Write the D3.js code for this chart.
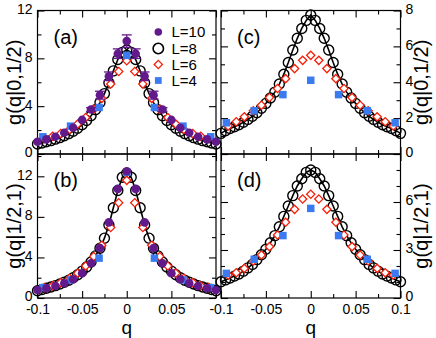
<!DOCTYPE html>
<html><head><meta charset="utf-8">
<script src="https://cdn.jsdelivr.net/npm/d3@7"></script>
<style>body{margin:0;background:#fff}svg{display:block}text{font-family:"Liberation Sans",Arial,Helvetica,sans-serif;fill:#000}</style>
</head><body><svg id="chart" width="436" height="338"></svg>
<script>
// ---------- data ----------
const qL10 = [-0.1,-0.09,-0.08,-0.07,-0.06,-0.05,-0.04,-0.03,-0.02,-0.01,0,0.01,0.02,0.03,0.04,0.05,0.06,0.07,0.08,0.09,0.1];
const qL8 = [-0.1,-0.095,-0.09,-0.085,-0.08,-0.075,-0.07,-0.065,-0.06,-0.055,-0.05,-0.045,-0.04,-0.035,-0.03,-0.025,-0.02,-0.015,-0.01,-0.005,0,0.005,0.01,0.015,0.02,0.025,0.03,0.035,0.04,0.045,0.05,0.055,0.06,0.065,0.07,0.075,0.08,0.085,0.09,0.095,0.1];
const qL6 = [-0.092,-0.083,-0.074,-0.064,-0.055,-0.046,-0.037,-0.028,-0.018,-0.009,0,0.009,0.018,0.028,0.037,0.046,0.055,0.064,0.074,0.083,0.092];
const qL4 = [-0.094,-0.063,-0.031,0,0.031,0.063,0.094];

// panel (a): g(q|0,1/2)
const aL10 = [1.03,1.22,1.44,1.78,2.19,2.85,3.72,4.92,6.5,8.39,9.44,8.39,6.5,4.92,3.72,2.85,2.19,1.78,1.44,1.22,1.03];
const aL10err = [0.05,0.05,0.05,0.06,0.08,0.1,0.15,0.33,0.36,0.4,0.52,0.4,0.36,0.33,0.15,0.1,0.08,0.06,0.05,0.05,0.05];
const aL8 = [0.83,0.92,1.02,1.12,1.24,1.37,1.52,1.7,1.9,2.15,2.45,2.8,3.2,3.7,4.3,5.05,5.95,6.95,7.9,8.5,8.7,8.5,7.9,6.95,5.95,5.05,4.3,3.7,3.2,2.8,2.45,2.15,1.9,1.7,1.52,1.37,1.24,1.12,1.02,0.92,0.83];
const aL6 = [1.3,1.48,1.72,2.05,2.5,3.05,3.75,4.65,5.85,6.9,7.8,6.9,5.85,4.65,3.75,3.05,2.5,2.05,1.72,1.48,1.3];
const aL4 = [1.44,2.33,3.89,8.25,3.89,2.33,1.44];

// panel (b): g(q|1/2,1)
const bL10 = [0.79,0.96,1.19,1.45,1.85,2.44,3.43,4.92,7.46,10.76,12.5,10.76,7.46,4.92,3.43,2.44,1.85,1.45,1.19,0.96,0.79];
const bL8 = [0.72,0.84,0.96,1.08,1.22,1.38,1.55,1.75,2.0,2.3,2.65,3.05,3.55,4.15,4.9,5.9,7.2,8.9,10.6,11.9,12.3,11.9,10.6,8.9,7.2,5.9,4.9,4.15,3.55,3.05,2.65,2.3,2.0,1.75,1.55,1.38,1.22,1.08,0.96,0.84,0.72];
const bL6 = [1.02,1.2,1.52,1.95,2.45,3.15,4.1,5.2,6.95,9.4,11.6,9.4,6.95,5.2,4.1,3.15,2.45,1.95,1.52,1.2,1.02];
const bL4 = [1.02,1.78,3.93,12.4,3.93,1.78,1.02];

// panel (c): g(q|0,1/2)
const cL8 = [1.15,1.3,1.42,1.52,1.63,1.77,1.93,2.1,2.3,2.55,2.82,3.12,3.45,3.9,4.45,5.1,5.8,6.45,7.0,7.45,7.75,7.45,7.0,6.45,5.8,5.1,4.45,3.9,3.45,3.12,2.82,2.55,2.3,2.1,1.93,1.77,1.63,1.52,1.42,1.3,1.15];
const cL6 = [1.56,1.8,2.07,2.41,2.72,3.15,3.65,4.2,4.76,5.22,5.5,5.22,4.76,4.2,3.65,3.15,2.72,2.41,2.07,1.8,1.56];
const cL4 = [1.74,2.41,3.31,4.11,3.31,2.41,1.74];

// panel (d): g(q|1/2,1)
const dL8 = [1.02,1.13,1.25,1.37,1.5,1.68,1.88,2.1,2.4,2.7,3.05,3.45,3.9,4.45,5.1,5.75,6.4,7.0,7.45,7.85,8.0,7.85,7.45,7.0,6.4,5.75,5.1,4.45,3.9,3.45,3.05,2.7,2.4,2.1,1.88,1.68,1.5,1.37,1.25,1.13,1.02];
const dL6 = [1.44,1.58,1.85,2.31,2.69,3.21,3.94,4.73,5.54,6.19,6.48,6.19,5.54,4.73,3.94,3.21,2.69,2.31,1.85,1.58,1.44];
const dL4 = [1.54,2.42,3.9,5.6,3.9,2.42,1.54];

const xMajor = [-0.1,-0.05,0,0.05,0.1];
const xMinor = [-0.075,-0.025,0.025,0.075];
const xTickLabels = ["-0.1","-0.05","0","0.05","0.1"];
const legendLabels = ["L=10","L=8","L=6","L=4"];

// ---------- layout ----------
const svg = d3.select("#chart");
const C = {purple:"#62198c", blue:"#3a7bf2", red:"#f5200a"};
const FONT_T = "14px", FONT_L = "20px";

const panels = [
  {name:"(a)", x0:37.5, x1:216,  y0:10.5, y1:154, ymax:12,   major:[0,4,8,12], minor:[2,6,10], side:"left",
   L10:aL10, L10err:aL10err, L8:aL8, L6:aL6, L4:aL4, ylabel:"g(q|0,1/2)", xlab:false, legend:true, xHide:[]},
  {name:"(b)", x0:37.5, x1:216,  y0:154,  y1:298, ymax:14.2, major:[0,4,8,12], minor:[2,6,10,14], side:"left",
   L10:bL10, L10err:null, L8:bL8, L6:bL6, L4:bL4, ylabel:"g(q|1/2,1)", xlab:true, legend:false, xHide:[0.1]},
  {name:"(c)", x0:221,  x1:400.5, y0:10.5, y1:154, ymax:8, major:[0,2,4,6,8], minor:[1,3,5,7], side:"right",
   L10:null, L10err:null, L8:cL8, L6:cL6, L4:cL4, ylabel:"g(q|0,1/2)", xlab:false, legend:false, xHide:[]},
  {name:"(d)", x0:221,  x1:400.5, y0:154,  y1:298, ymax:9, major:[0,3,6,9], minor:[1,2,4,5,7,8], side:"right",
   L10:null, L10err:null, L8:dL8, L6:dL6, L4:dL4, ylabel:"g(q|1/2,1)", xlab:true, legend:false, xHide:[], yHideLabel:[9]}
];

const diamond = d3.symbol().type(d3.symbolSquare).size(34)();
const square = d3.symbol().type(d3.symbolSquare).size(56)();

function fmtX(d){ const i = xMajor.indexOf(d); return i>=0 ? xTickLabels[i] : ""; }

panels.forEach(p => {
  const x = d3.scaleLinear().domain([-0.1,0.1]).range([p.x0,p.x1]);
  const y = d3.scaleLinear().domain([0,p.ymax]).range([p.y1,p.y0]);
  const g = svg.append("g");

  // frame
  g.append("rect").attr("x",p.x0).attr("y",p.y0).attr("width",p.x1-p.x0).attr("height",p.y1-p.y0)
    .attr("fill","none").attr("stroke","#000").attr("stroke-width",1.2);

  const style = sel => { sel.select(".domain").remove(); sel.selectAll("line").attr("stroke","#000").attr("stroke-width",1.1);
    sel.selectAll("text").style("font-size",FONT_T).attr("fill","#000"); };

  // x axes (bottom + top), inward ticks
  const xb = g.append("g").attr("transform",`translate(0,${p.y1})`)
    .call(d3.axisBottom(x).tickValues(xMajor).tickSize(-7).tickPadding(6)
      .tickFormat(d => (p.xlab && p.xHide.indexOf(d)<0) ? fmtX(d) : ""));
  style(xb);
  g.append("g").attr("transform",`translate(0,${p.y1})`).call(d3.axisBottom(x).tickValues(xMinor).tickSize(-4).tickFormat("")).call(style);
  g.append("g").attr("transform",`translate(0,${p.y0})`).call(d3.axisTop(x).tickValues(xMajor).tickSize(-7).tickFormat("")).call(style);
  g.append("g").attr("transform",`translate(0,${p.y0})`).call(d3.axisTop(x).tickValues(xMinor).tickSize(-4).tickFormat("")).call(style);

  // y axes
  const hide = p.yHideLabel || [];
  const labFmt = d => hide.indexOf(d)>=0 ? "" : String(d);
  const yl = p.side==="left"
    ? d3.axisLeft(y).tickValues(p.major).tickSize(-7).tickPadding(5).tickFormat(labFmt)
    : d3.axisLeft(y).tickValues(p.major).tickSize(-7).tickFormat("");
  const yr = p.side==="right"
    ? d3.axisRight(y).tickValues(p.major).tickSize(-7).tickPadding(5).tickFormat(labFmt)
    : d3.axisRight(y).tickValues(p.major).tickSize(-7).tickFormat("");
  g.append("g").attr("transform",`translate(${p.x0},0)`).call(yl).call(style).selectAll("text").attr("y",-1.5);
  g.append("g").attr("transform",`translate(${p.x1},0)`).call(yr).call(style).selectAll("text").attr("y",-1.5);
  g.append("g").attr("transform",`translate(${p.x0},0)`).call(d3.axisLeft(y).tickValues(p.minor).tickSize(-4).tickFormat("")).call(style);
  g.append("g").attr("transform",`translate(${p.x1},0)`).call(d3.axisRight(y).tickValues(p.minor).tickSize(-4).tickFormat("")).call(style);

  // L=8 line + open circles
  const pts8 = qL8.map((q,i)=>[q,p.L8[i]]);
  g.append("path").datum(pts8).attr("fill","none").attr("stroke","#000").attr("stroke-width",1.6)
    .attr("d", d3.line().x(d=>x(d[0])).y(d=>y(d[1])));
  g.selectAll(".c8").data(pts8).join("circle").attr("cx",d=>x(d[0])).attr("cy",d=>y(d[1])).attr("r",5)
    .attr("fill","none").attr("stroke","#000").attr("stroke-width",1.4);

  // L=6 diamonds
  g.selectAll(".d6").data(qL6.map((q,i)=>[q,p.L6[i]])).join("path").attr("d",diamond)
    .attr("transform",d=>`translate(${x(d[0])},${y(d[1])}) rotate(45)`)
    .attr("fill","#fff").attr("stroke",C.red).attr("stroke-width",1.3);

  // L=4 squares
  g.selectAll(".s4").data(qL4.map((q,i)=>[q,p.L4[i]])).join("path").attr("d",square)
    .attr("transform",d=>`translate(${x(d[0])},${y(d[1])})`).attr("fill",C.blue);

  // L=10 dots + error bars
  if (p.L10) {
    const pts10 = qL10.map((q,i)=>[q,p.L10[i], p.L10err ? p.L10err[i] : 0]);
    const eb = pts10.filter(d=>d[2]>0.12);
    eb.forEach(d=>{
      const cx = x(d[0]);
      g.append("line").attr("x1",cx).attr("x2",cx).attr("y1",y(d[1]-d[2])).attr("y2",y(d[1]+d[2])).attr("stroke",C.purple).attr("stroke-width",1.3);
      [d[1]-d[2], d[1]+d[2]].forEach(v=> g.append("line").attr("x1",cx-5).attr("x2",cx+5).attr("y1",y(v)).attr("y2",y(v)).attr("stroke",C.purple).attr("stroke-width",1.3));
    });
    g.selectAll(".p10").data(pts10).join("circle").attr("cx",d=>x(d[0])).attr("cy",d=>y(d[1])).attr("r",4.3).attr("fill",C.purple);
  }

  // panel label
  g.append("text").attr("x",p.x0+16).attr("y",p.y0+33).style("font-size",FONT_L).text(p.name);

  // y label
  const lx = p.side==="left" ? 20.5 : 428;
  g.append("text").attr("transform",`translate(${lx},${(p.y0+p.y1)/2}) rotate(-90)`).attr("text-anchor","middle")
    .style("font-size",FONT_L).text(p.ylabel);

  if (p.xlab) {
    g.append("text").attr("x",(p.x0+p.x1)/2).attr("y",333.5).attr("text-anchor","middle").style("font-size","19px").text("q");
  }

  if (p.legend) {
    const lg = g.append("g");
    const rows = [32, 48.5, 64.5, 80.5];
    const mx = 158.3;
    lg.append("circle").attr("cx",mx).attr("cy",rows[0]).attr("r",3.8).attr("fill",C.purple);
    lg.append("circle").attr("cx",mx).attr("cy",rows[1]).attr("r",5.2).attr("fill","none").attr("stroke","#000").attr("stroke-width",1.6);
    lg.append("path").attr("d",diamond).attr("transform",`translate(${mx},${rows[2]}) rotate(45)`).attr("fill","#fff").attr("stroke",C.red).attr("stroke-width",1.3);
    lg.append("path").attr("d",d3.symbol().type(d3.symbolSquare).size(46)()).attr("transform",`translate(${mx},${rows[3]})`).attr("fill",C.blue);
    legendLabels.forEach((t,i)=> lg.append("text").attr("x",171.5).attr("y",rows[i]+5.4).style("font-size","15px").text(t));
  }
});
</script></body></html>
